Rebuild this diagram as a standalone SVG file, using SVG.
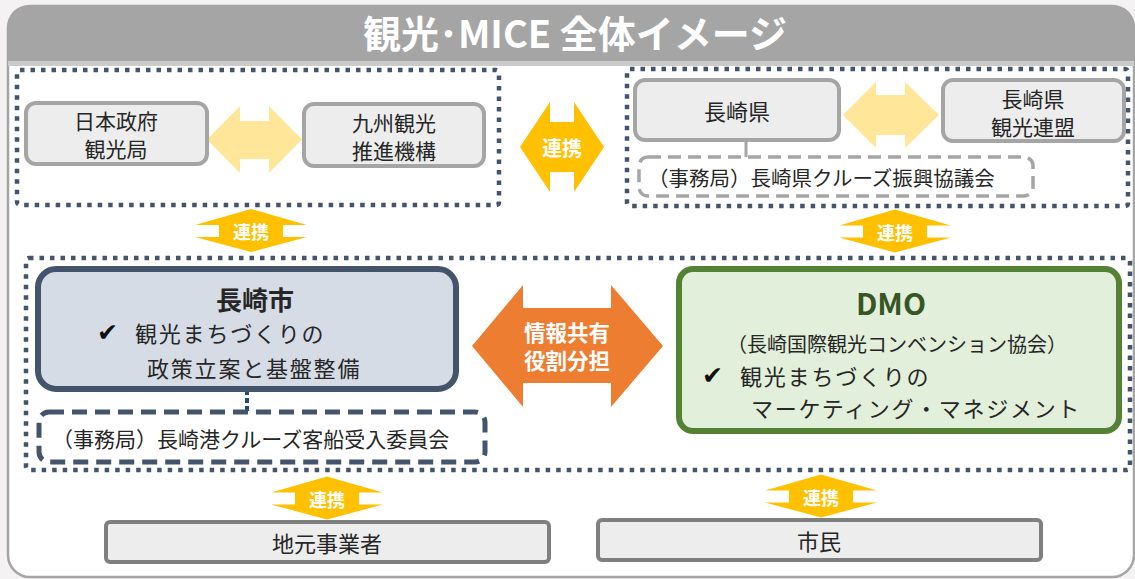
<svg xmlns="http://www.w3.org/2000/svg" width="1135" height="579" viewBox="0 0 1135 579">
<defs>
<style>
.t{font-family:"Noto Sans CJK JP","Noto Sans",sans-serif;fill:#262626;dominant-baseline:central}
.m{text-anchor:middle}
.w{fill:#ffffff;font-weight:bold}
.dot{fill:none;stroke:#44546A;stroke-width:4.5;stroke-dasharray:4.5 6}
.gbox{fill:#EDEDED;stroke:#A5A5A5;stroke-width:4}
.bbox{fill:#EDEDED;stroke:#7F7F7F;stroke-width:4}
.chk{font-family:"DejaVu Sans",sans-serif;fill:#111;dominant-baseline:central;font-weight:bold}
</style>
<path id="ud" d="M0,-22 L56,-6 L32,-6 L32,6 L56,6 L0,21 L-56,6 L-32,6 L-32,-6 L-56,-6 Z" fill="#FFC000"/>
</defs>
<rect x="0" y="0" width="1135" height="579" fill="#F4F2F2"/>
<g id="frame">
<rect x="8" y="6" width="1126" height="571" rx="22" fill="#FFFFFF" stroke="#A5A5A5" stroke-width="2.5"/>
<path d="M8,61 V28 Q8,6 30,6 H1112 Q1134,6 1134,28 V61 Z" fill="#A5A5A5"/>
<rect x="8" y="61" width="1126" height="5" fill="#CBCBCB"/>
<text class="t m w" x="575" y="31" font-size="38">観光･MICE 全体イメージ</text>
</g>
<g id="groups">
<rect class="dot" x="17" y="70" width="482" height="135" rx="3"/>
<rect class="dot" x="627" y="69" width="501" height="137" rx="3"/>
<rect class="dot" x="26" y="258" width="1104" height="212" rx="3"/>
</g>
<g id="connectors">
<path d="M207,139.5 L240,106 L240,121 L269,121 L269,106 L302,139.5 L269,173 L269,159 L240,159 L240,173 Z" fill="#FFE699"/>
<path d="M843,115 L876,82 L876,95 L905,95 L905,82 L939,115 L905,148 L905,135 L876,135 L876,148 Z" fill="#FFE699"/>
<line x1="746" y1="140" x2="746" y2="157" stroke="#A5A5A5" stroke-width="3"/>
<line x1="247" y1="390" x2="247" y2="412" stroke="#1F4E79" stroke-width="4" stroke-dasharray="5 3"/>
<g id="renkei-mid">
<path d="M520,147 L550,102 L550,122 L574,122 L574,102 L604,147 L574,192 L574,172 L550,172 L550,192 Z" fill="#FFC000"/>
<text class="t m w" x="562" y="147" font-size="20">連携</text>
</g>
<g id="renkei-1"><use href="#ud" x="251" y="231"/><text class="t m w" x="251" y="231" font-size="18">連携</text></g>
<g id="renkei-2"><use href="#ud" x="895" y="231.5"/><text class="t m w" x="895" y="231.5" font-size="18">連携</text></g>
<g id="renkei-3"><use href="#ud" x="327" y="498.5"/><text class="t m w" x="327" y="498.5" font-size="18">連携</text></g>
<g id="renkei-4"><use href="#ud" x="821" y="496.5"/><text class="t m w" x="821" y="496.5" font-size="18">連携</text></g>
<g id="share">
<path d="M472,346 L523,285 L523,308 L611,308 L611,285 L663,346 L611,407 L611,383 L523,383 L523,407 Z" fill="#ED7D31"/>
<text class="t m w" font-size="21.5"><tspan x="567" y="331">情報共有</tspan><tspan x="567" y="359">役割分担</tspan></text>
</g>
</g>
<g id="jnto">
<rect class="gbox" x="26" y="103" width="181" height="61" rx="10"/>
<text class="t m" font-size="21"><tspan x="116" y="120">日本政府</tspan><tspan x="116" y="148">観光局</tspan></text>
</g>
<g id="kyushu">
<rect class="gbox" x="304" y="104" width="180" height="62" rx="10"/>
<text class="t m" font-size="21"><tspan x="394" y="122">九州観光</tspan><tspan x="394" y="150">推進機構</tspan></text>
</g>
<g id="pref">
<rect class="gbox" x="635" y="80" width="204" height="60" rx="10"/>
<text class="t m" x="737" y="110" font-size="22">長崎県</text>
</g>
<g id="renmei">
<rect class="gbox" x="943" y="80" width="181" height="61" rx="10"/>
<text class="t m" font-size="21"><tspan x="1033" y="98">長崎県</tspan><tspan x="1033" y="126">観光連盟</tspan></text>
</g>
<g id="pref-cruise">
<rect x="639" y="157" width="394" height="39" rx="9" fill="none" stroke="#A5A5A5" stroke-width="3.5" stroke-dasharray="13 7"/>
<text class="t" x="648" y="177" font-size="20.5">（事務局）長崎県クルーズ振興協議会</text>
</g>
<g id="city">
<rect x="38" y="269" width="418" height="120" rx="18" fill="#D6DCE5" stroke="#44546A" stroke-width="6"/>
<text class="t m" x="255" y="298" font-size="26" font-weight="bold">長崎市</text>
<text class="chk" x="97" y="332" font-size="25">✔</text>
<text class="t" x="135" y="332" font-size="22" letter-spacing="1.8">観光まちづくりの</text>
<text class="t" x="147" y="367" font-size="22" letter-spacing="1.8">政策立案と基盤整備</text>
</g>
<g id="city-cruise">
<rect x="39" y="412" width="446" height="50" rx="10" fill="none" stroke="#44546A" stroke-width="5" stroke-dasharray="15 8"/>
<text class="t" x="52" y="438" font-size="21">（事務局）長崎港クルーズ客船受入委員会</text>
</g>
<g id="dmo">
<rect x="679" y="269" width="440" height="162" rx="14" fill="#E2EFDA" stroke="#548235" stroke-width="6"/>
<text class="t m" x="891" y="302" font-size="30" font-weight="bold" style="fill:#375623">DMO</text>
<text class="t m" x="897" y="343" font-size="20">（長崎国際観光コンベンション協会）</text>
<text class="chk" x="702" y="375" font-size="25">✔</text>
<text class="t" x="740" y="375" font-size="22" letter-spacing="1.8">観光まちづくりの</text>
<text class="t" x="751" y="407" font-size="22" letter-spacing="1.7">マーケティング・マネジメント</text>
</g>
<g id="business">
<rect class="bbox" x="106" y="522" width="443" height="40" rx="4"/>
<text class="t m" x="327" y="542" font-size="22">地元事業者</text>
</g>
<g id="citizens">
<rect class="bbox" x="598" y="520" width="443" height="40" rx="4"/>
<text class="t m" x="819" y="540" font-size="22">市民</text>
</g>
</svg>
